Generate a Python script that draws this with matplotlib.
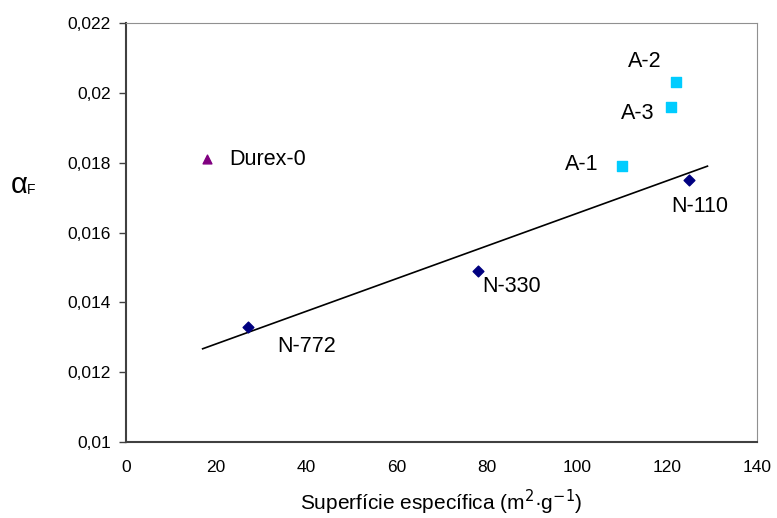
import matplotlib
matplotlib.use("Agg")
import matplotlib.pyplot as plt

plt.rcParams["font.family"] = ["Liberation Sans", "DejaVu Sans"]

# ----------------------------------------------------------------- data
n_names = ["N-772", "N-330", "N-110"]
n_x = [27, 78, 125]
n_y = [0.0133, 0.0149, 0.0175]

a_names = ["A-1", "A-2", "A-3"]
a_x = [110, 122, 121]
a_y = [0.0179, 0.0203, 0.0196]

durex_name = "Durex-0"
durex_x = [18]
durex_y = [0.0181]

trend_x = [17, 129]
trend_y = [0.01267, 0.0179]

x_ticks = [0, 20, 40, 60, 80, 100, 120, 140]
y_ticks = [0.010, 0.012, 0.014, 0.016, 0.018, 0.020, 0.022]
y_tick_labels = ["0,01", "0,012", "0,014", "0,016", "0,018", "0,02", "0,022"]

# label offsets in points (dx, dy) relative to each marker
n_offsets = [(21, -14), (3.5, -11), (-13, -19)]   # left-aligned
a_offsets = [(-17, 1.5), (-10, 15), (-12, -5)]    # right-aligned
durex_offset = (16, 0)

LABEL_FS = 15.5

# ----------------------------------------------------------------- plot
fig = plt.figure(figsize=(7.77, 5.18), dpi=100)
ax = fig.add_axes([0.1622, 0.1467, 0.8121, 0.8089])

ax.plot(trend_x, trend_y, color="black", lw=1.2, zorder=2)
ax.scatter(n_x, n_y, marker="D", s=30, color="#000080", zorder=3)
ax.scatter(a_x, a_y, marker="s", s=55, color="#00CCFF", zorder=3)
ax.scatter(durex_x, durex_y, marker="^", s=40, color="#800080", zorder=3)

for name, x, y, off in zip(n_names, n_x, n_y, n_offsets):
    ax.annotate(name, (x, y), xytext=off, textcoords="offset points",
                fontsize=LABEL_FS, ha="left", va="center")
for name, x, y, off in zip(a_names, a_x, a_y, a_offsets):
    ax.annotate(name, (x, y), xytext=off, textcoords="offset points",
                fontsize=LABEL_FS, ha="right", va="center")
ax.annotate(durex_name, (durex_x[0], durex_y[0]), xytext=durex_offset,
            textcoords="offset points", fontsize=LABEL_FS, ha="left", va="center")

ax.set_xlim(0, 140)
ax.set_ylim(0.01, 0.022)
ax.set_xticks(x_ticks)
ax.set_xticklabels([str(t) for t in x_ticks])
ax.set_yticks(y_ticks)
ax.set_yticklabels(y_tick_labels)
ax.tick_params(axis="x", length=0, pad=13, labelsize=12.5)
ax.tick_params(axis="y", length=5, width=1, color="#404040", pad=6, labelsize=12.5)

ax.spines["left"].set_color("#404040")
ax.spines["bottom"].set_color("#404040")
ax.spines["left"].set_linewidth(1.5)
ax.spines["bottom"].set_linewidth(1.5)
ax.spines["top"].set_color("#909090")
ax.spines["right"].set_color("#909090")

ax.set_xlabel(r"Superfície específica (m$^{2}$·g$^{-1}$)", fontsize=15, labelpad=9)

# y label: upright alpha with subscript F
fig.text(0.014, 0.6274, "α", fontsize=21, ha="left", va="baseline")
fig.text(0.035, 0.6255, "F", fontsize=10, ha="left", va="baseline")

fig.savefig("out.png", dpi=100)
